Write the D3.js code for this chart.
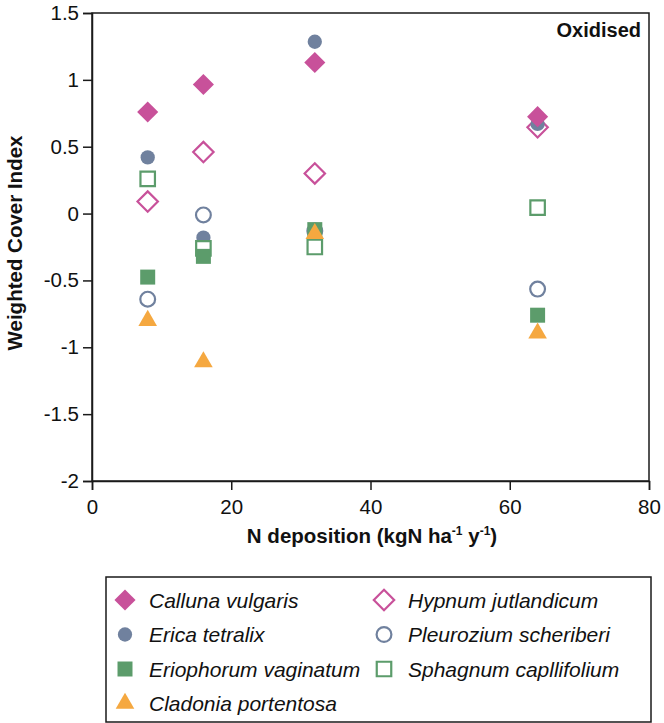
<!DOCTYPE html>
<html><head><meta charset="utf-8">
<script src="https://cdn.jsdelivr.net/npm/d3@7"></script>
<style>body{margin:0;background:#fff}svg{display:block}</style>
</head><body><svg id="c" width="664" height="723"></svg>
<script>
const xValues = [8, 16, 32, 64];
const calluna = [0.76, 0.965, 1.13, 0.725];
const erica = [0.42, -0.18, 1.285, 0.67];
const eriophorum = [-0.475, -0.32, -0.12, -0.76];
const cladonia = [-0.80, -1.11, -0.15, -0.895];
const hypnum = [0.09, 0.46, 0.30, 0.645];
const pleurozium = [-0.64, -0.01, -0.13, -0.565];
const sphagnum = [0.26, -0.26, -0.25, 0.045];
const xTicks = [0, 20, 40, 60, 80];
const yTicks = [-2, -1.5, -1, -0.5, 0, 0.5, 1, 1.5];

const series = [
  {name: "Calluna vulgaris", values: calluna, shape: "diamond", fill: true, color: "#c8519a"},
  {name: "Erica tetralix", values: erica, shape: "circle", fill: true, color: "#70819e"},
  {name: "Eriophorum vaginatum", values: eriophorum, shape: "square", fill: true, color: "#5c9c6b"},
  {name: "Cladonia portentosa", values: cladonia, shape: "triangle", fill: true, color: "#f5a840"},
  {name: "Hypnum jutlandicum", values: hypnum, shape: "diamond", fill: false, color: "#c8519a"},
  {name: "Pleurozium scheriberi", values: pleurozium, shape: "circle", fill: false, color: "#70819e"},
  {name: "Sphagnum capllifolium", values: sphagnum, shape: "square", fill: false, color: "#5c9c6b"}
];
const drawOrder = [5, 4, 1, 0, 6, 2, 3].map(i => series[i]);

const svg = d3.select("#c");
const m = {left: 92, top: 13, right: 649, bottom: 481};
const x = d3.scaleLinear().domain([0, 80]).range([m.left, m.right]);
const y = d3.scaleLinear().domain([-2, 1.5]).range([m.bottom, m.top]);
const font = "Liberation Sans, Arial, sans-serif";

function symPath(shape, fill) {
  const sizes = fill
    ? {diamond: 215, circle: 160, square: 225, triangle: 150}
    : {diamond: 200, circle: 172, square: 210, triangle: 150};
  if (shape === "diamond") {
    const r = Math.sqrt(sizes[shape]) * 0.72;
    return `M0,${-r}L${r},0L0,${r}L${-r},0Z`;
  }
  const t = {circle: d3.symbolCircle, square: d3.symbolSquare, triangle: d3.symbolTriangle}[shape];
  return d3.symbol(t, sizes[shape])();
}

// frame
svg.append("rect").attr("x", m.left).attr("y", m.top).attr("width", m.right - m.left).attr("height", m.bottom - m.top)
  .attr("fill", "none").attr("stroke", "#1a1a1a").attr("stroke-width", 1.5);

const xAxis = svg.append("g").attr("transform", `translate(0,${m.bottom})`)
  .call(d3.axisBottom(x).tickValues(xTicks).tickSize(9).tickPadding(9).tickFormat(d3.format("d")));
const yAxis = svg.append("g").attr("transform", `translate(${m.left},0)`)
  .call(d3.axisLeft(y).tickValues(yTicks).tickSize(9).tickPadding(4).tickFormat(d => String(d)));
[xAxis, yAxis].forEach(a => {
  a.select(".domain").attr("stroke", "#1a1a1a").attr("stroke-width", 1.5);
  a.selectAll(".tick line").attr("stroke", "#1a1a1a").attr("stroke-width", 1.5);
  a.selectAll(".tick text").attr("font-family", font).attr("font-size", 20.5).attr("fill", "#111");
});

// points
drawOrder.forEach(s => {
  svg.append("g").selectAll("path").data(s.values).join("path")
    .attr("d", symPath(s.shape, s.fill))
    .attr("transform", (v, i) => `translate(${x(xValues[i])},${y(v)})`)
    .attr("fill", s.fill ? s.color : "#fff")
    .attr("stroke", s.fill ? "none" : s.color)
    .attr("stroke-width", s.fill ? 0 : 2.2);
});

// title
svg.append("text").attr("x", 641).attr("y", 37).attr("text-anchor", "end")
  .attr("font-family", font).attr("font-weight", "bold").attr("font-size", 20).attr("fill", "#111").text("Oxidised");

// axis labels
svg.append("text").attr("transform", `translate(22,243) rotate(-90)`)
  .attr("text-anchor", "middle").attr("font-family", font).attr("font-weight", "bold").attr("font-size", 20.5).attr("fill", "#111")
  .text("Weighted Cover Index");
const xl = svg.append("text").attr("x", 372).attr("y", 543).attr("text-anchor", "middle")
  .attr("font-family", font).attr("font-weight", "bold").attr("font-size", 20.5).attr("fill", "#111");
xl.append("tspan").text("N deposition (kgN ha");
xl.append("tspan").attr("dy", -8).attr("font-size", 12).text("-1");
xl.append("tspan").attr("dy", 8).text(" y");
xl.append("tspan").attr("dy", -8).attr("font-size", 12).text("-1");
xl.append("tspan").attr("dy", 8).text(")");

// legend
const lg = svg.append("g");
lg.append("rect").attr("x", 106).attr("y", 577).attr("width", 545).attr("height", 145)
  .attr("fill", "#fff").attr("stroke", "#1a1a1a").attr("stroke-width", 1.5);
const cols = [[0, 1, 2, 3], [4, 5, 6]];
const colX = [125, 384];
cols.forEach((idxs, c) => {
  idxs.forEach((si, r) => {
    const s = series[si];
    const cy = 600 + r * 34.5;
    lg.append("path").attr("d", symPath(s.shape, s.fill))
      .attr("transform", `translate(${colX[c]},${cy})`)
      .attr("fill", s.fill ? s.color : "#fff")
      .attr("stroke", s.fill ? "none" : s.color)
      .attr("stroke-width", s.fill ? 0 : 2.2);
    lg.append("text").attr("x", colX[c] + 24).attr("y", cy + 7.5)
      .attr("font-family", font).attr("font-style", "italic").attr("font-size", 21).attr("fill", "#111")
      .text(s.name);
  });
});
</script></body></html>
